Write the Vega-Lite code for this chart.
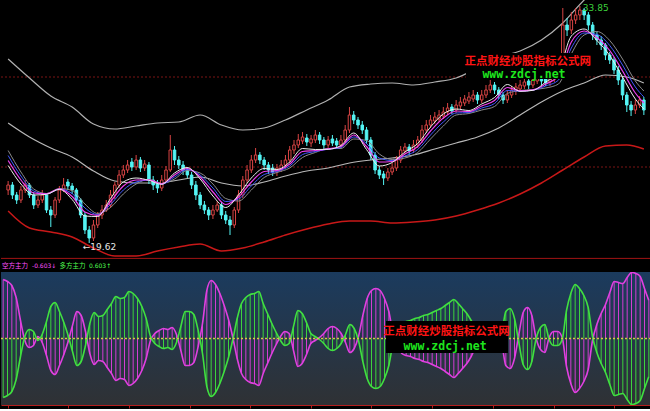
{
"$schema": "https://vega.github.io/schema/vega-lite/v6.json",
"background": "#000000",
"padding": 0,
"spacing": 0,
"config": {"view": {"stroke": null}},
"datasets": {
"one": [{}],
"k": [
{"i":0,"o":22.80,"h":23.34,"l":22.50,"c":23.10,"m":0.59,"g":-0.59},
{"i":1,"o":23.10,"h":23.28,"l":22.26,"c":22.50,"m":0.57,"g":-0.57},
{"i":2,"o":22.50,"h":22.68,"l":21.96,"c":22.20,"m":0.53,"g":-0.53},
{"i":3,"o":22.20,"h":23.04,"l":22.02,"c":22.80,"m":0.41,"g":-0.41},
{"i":4,"o":22.80,"h":23.40,"l":22.62,"c":23.10,"m":0.18,"g":-0.18},
{"i":5,"o":23.10,"h":23.22,"l":22.32,"c":22.50,"m":-0.02,"g":0.02},
{"i":6,"o":22.50,"h":22.68,"l":21.66,"c":21.90,"m":-0.09,"g":0.09},
{"i":7,"o":21.90,"h":22.44,"l":21.72,"c":22.20,"m":-0.07,"g":0.07},
{"i":8,"o":22.20,"h":22.80,"l":22.02,"c":22.50,"m":0.02,"g":-0.02},
{"i":9,"o":22.50,"h":22.62,"l":21.42,"c":21.60,"m":-0.04,"g":0.04},
{"i":10,"o":21.60,"h":21.84,"l":20.58,"c":21.30,"m":-0.17,"g":0.17},
{"i":11,"o":21.30,"h":22.38,"l":21.12,"c":22.20,"m":-0.32,"g":0.32},
{"i":12,"o":22.20,"h":23.04,"l":22.02,"c":22.80,"m":-0.36,"g":0.36},
{"i":13,"o":22.80,"h":23.52,"l":22.68,"c":23.10,"m":-0.27,"g":0.27},
{"i":14,"o":23.28,"h":23.46,"l":22.80,"c":23.04,"m":-0.16,"g":0.16},
{"i":15,"o":23.04,"h":23.22,"l":22.56,"c":22.80,"m":-0.03,"g":0.03},
{"i":16,"o":22.80,"h":22.92,"l":22.02,"c":22.20,"m":0.13,"g":-0.13},
{"i":17,"o":22.20,"h":22.32,"l":21.12,"c":21.30,"m":0.27,"g":-0.27},
{"i":18,"o":21.30,"h":21.48,"l":20.16,"c":20.40,"m":0.23,"g":-0.23},
{"i":19,"o":20.40,"h":20.64,"l":19.62,"c":19.92,"m":0.07,"g":-0.07},
{"i":20,"o":19.92,"h":21.00,"l":19.74,"c":20.70,"m":-0.15,"g":0.15},
{"i":21,"o":20.70,"h":21.48,"l":20.52,"c":21.30,"m":-0.26,"g":0.26},
{"i":22,"o":21.30,"h":21.90,"l":21.06,"c":21.60,"m":-0.22,"g":0.22},
{"i":23,"o":21.60,"h":22.20,"l":21.48,"c":21.90,"m":-0.23,"g":0.23},
{"i":24,"o":21.90,"h":22.80,"l":21.72,"c":22.50,"m":-0.29,"g":0.29},
{"i":25,"o":22.50,"h":23.28,"l":22.26,"c":23.10,"m":-0.35,"g":0.35},
{"i":26,"o":23.10,"h":24.00,"l":22.92,"c":23.70,"m":-0.42,"g":0.42},
{"i":27,"o":23.70,"h":24.30,"l":23.52,"c":24.00,"m":-0.40,"g":0.40},
{"i":28,"o":24.00,"h":24.60,"l":23.82,"c":24.30,"m":-0.41,"g":0.41},
{"i":29,"o":24.48,"h":24.72,"l":23.94,"c":24.18,"m":-0.47,"g":0.47},
{"i":30,"o":24.18,"h":24.90,"l":24.00,"c":24.60,"m":-0.45,"g":0.45},
{"i":31,"o":24.60,"h":24.78,"l":23.88,"c":24.12,"m":-0.40,"g":0.40},
{"i":32,"o":24.12,"h":24.60,"l":23.94,"c":24.36,"m":-0.32,"g":0.32},
{"i":33,"o":24.30,"h":24.48,"l":23.16,"c":23.40,"m":-0.20,"g":0.20},
{"i":34,"o":23.40,"h":23.64,"l":22.80,"c":23.10,"m":-0.02,"g":0.02},
{"i":35,"o":23.16,"h":23.40,"l":22.62,"c":22.92,"m":0.05,"g":-0.05},
{"i":36,"o":22.92,"h":23.70,"l":22.74,"c":23.40,"m":0.08,"g":-0.08},
{"i":37,"o":23.40,"h":24.24,"l":23.22,"c":24.00,"m":0.10,"g":-0.10},
{"i":38,"o":24.00,"h":26.10,"l":23.88,"c":25.20,"m":0.09,"g":-0.09},
{"i":39,"o":25.20,"h":25.44,"l":24.30,"c":24.60,"m":0.11,"g":-0.11},
{"i":40,"o":24.60,"h":24.84,"l":24.06,"c":24.30,"m":0.04,"g":-0.04},
{"i":41,"o":24.30,"h":24.54,"l":23.70,"c":24.00,"m":-0.12,"g":0.12},
{"i":42,"o":24.00,"h":24.18,"l":23.52,"c":23.70,"m":-0.27,"g":0.27},
{"i":43,"o":23.70,"h":23.88,"l":22.86,"c":23.10,"m":-0.27,"g":0.27},
{"i":44,"o":23.10,"h":23.34,"l":22.20,"c":22.50,"m":-0.24,"g":0.24},
{"i":45,"o":22.50,"h":22.68,"l":21.66,"c":21.90,"m":-0.08,"g":0.08},
{"i":46,"o":21.90,"h":22.14,"l":21.36,"c":21.60,"m":0.15,"g":-0.15},
{"i":47,"o":21.60,"h":21.78,"l":21.00,"c":21.30,"m":0.48,"g":-0.48},
{"i":48,"o":21.30,"h":21.90,"l":21.06,"c":21.60,"m":0.58,"g":-0.58},
{"i":49,"o":21.60,"h":22.14,"l":21.48,"c":21.90,"m":0.54,"g":-0.54},
{"i":50,"o":21.90,"h":22.08,"l":21.06,"c":21.30,"m":0.45,"g":-0.45},
{"i":51,"o":21.30,"h":21.54,"l":20.76,"c":21.00,"m":0.33,"g":-0.33},
{"i":52,"o":21.00,"h":21.24,"l":20.10,"c":20.70,"m":0.19,"g":-0.19},
{"i":53,"o":20.70,"h":21.78,"l":20.52,"c":21.60,"m":0.01,"g":-0.01},
{"i":54,"o":21.60,"h":22.80,"l":21.42,"c":22.50,"m":-0.20,"g":0.20},
{"i":55,"o":22.50,"h":23.64,"l":22.32,"c":23.40,"m":-0.35,"g":0.35},
{"i":56,"o":23.40,"h":24.30,"l":23.22,"c":24.00,"m":-0.41,"g":0.41},
{"i":57,"o":24.00,"h":24.90,"l":23.82,"c":24.60,"m":-0.44,"g":0.44},
{"i":58,"o":24.60,"h":25.32,"l":24.42,"c":24.90,"m":-0.45,"g":0.45},
{"i":59,"o":24.90,"h":25.08,"l":24.36,"c":24.60,"m":-0.47,"g":0.47},
{"i":60,"o":24.60,"h":24.78,"l":24.00,"c":24.30,"m":-0.35,"g":0.35},
{"i":61,"o":24.30,"h":24.48,"l":23.76,"c":24.00,"m":-0.25,"g":0.25},
{"i":62,"o":24.12,"h":24.36,"l":23.64,"c":23.88,"m":-0.15,"g":0.15},
{"i":63,"o":23.88,"h":24.36,"l":23.64,"c":24.12,"m":-0.06,"g":0.06},
{"i":64,"o":24.06,"h":24.60,"l":23.88,"c":24.30,"m":0.02,"g":-0.02},
{"i":65,"o":24.30,"h":24.90,"l":24.12,"c":24.60,"m":0.07,"g":-0.07},
{"i":66,"o":24.60,"h":25.44,"l":24.42,"c":25.20,"m":0.05,"g":-0.05},
{"i":67,"o":25.20,"h":25.80,"l":24.96,"c":25.50,"m":-0.12,"g":0.12},
{"i":68,"o":25.50,"h":26.16,"l":25.32,"c":25.80,"m":-0.28,"g":0.28},
{"i":69,"o":25.74,"h":26.28,"l":25.56,"c":25.98,"m":-0.25,"g":0.25},
{"i":70,"o":25.92,"h":26.16,"l":25.44,"c":25.68,"m":-0.16,"g":0.16},
{"i":71,"o":25.62,"h":26.10,"l":25.38,"c":25.86,"m":-0.05,"g":0.05},
{"i":72,"o":25.80,"h":26.40,"l":25.62,"c":26.10,"m":-0.02,"g":0.02},
{"i":73,"o":26.10,"h":26.28,"l":25.56,"c":25.80,"m":0.01,"g":-0.01},
{"i":74,"o":25.80,"h":25.98,"l":25.26,"c":25.50,"m":0.05,"g":-0.05},
{"i":75,"o":25.50,"h":26.04,"l":25.32,"c":25.80,"m":0.10,"g":-0.10},
{"i":76,"o":25.86,"h":26.10,"l":25.44,"c":25.62,"m":0.12,"g":-0.12},
{"i":77,"o":25.74,"h":25.92,"l":25.26,"c":25.50,"m":0.10,"g":-0.10},
{"i":78,"o":25.50,"h":26.10,"l":25.32,"c":25.80,"m":0.05,"g":-0.05},
{"i":79,"o":25.80,"h":26.70,"l":25.62,"c":26.40,"m":-0.04,"g":0.04},
{"i":80,"o":26.40,"h":27.78,"l":26.22,"c":27.30,"m":-0.14,"g":0.14},
{"i":81,"o":27.30,"h":27.54,"l":26.76,"c":27.00,"m":-0.10,"g":0.10},
{"i":82,"o":27.00,"h":27.18,"l":26.46,"c":26.70,"m":0.02,"g":-0.02},
{"i":83,"o":26.70,"h":26.94,"l":26.16,"c":26.40,"m":0.23,"g":-0.23},
{"i":84,"o":26.40,"h":26.58,"l":25.56,"c":25.80,"m":0.40,"g":-0.40},
{"i":85,"o":25.80,"h":25.98,"l":24.60,"c":24.90,"m":0.48,"g":-0.48},
{"i":86,"o":24.90,"h":25.08,"l":23.76,"c":24.00,"m":0.50,"g":-0.50},
{"i":87,"o":24.00,"h":24.24,"l":23.46,"c":23.70,"m":0.48,"g":-0.48},
{"i":88,"o":23.76,"h":23.94,"l":23.10,"c":23.52,"m":0.40,"g":-0.40},
{"i":89,"o":23.52,"h":24.12,"l":23.34,"c":23.88,"m":0.27,"g":-0.27},
{"i":90,"o":23.88,"h":24.42,"l":23.70,"c":24.12,"m":0.04,"g":-0.04},
{"i":91,"o":24.12,"h":24.84,"l":23.94,"c":24.60,"m":-0.08,"g":0.08},
{"i":92,"o":24.60,"h":25.44,"l":24.42,"c":25.20,"m":-0.15,"g":0.15},
{"i":93,"o":25.14,"h":25.62,"l":24.96,"c":25.38,"m":-0.17,"g":0.17},
{"i":94,"o":25.38,"h":25.56,"l":24.90,"c":25.14,"m":-0.18,"g":0.18},
{"i":95,"o":25.20,"h":25.80,"l":25.02,"c":25.50,"m":-0.20,"g":0.20},
{"i":96,"o":25.50,"h":26.04,"l":25.32,"c":25.80,"m":-0.21,"g":0.21},
{"i":97,"o":25.80,"h":26.70,"l":25.62,"c":26.40,"m":-0.23,"g":0.23},
{"i":98,"o":26.40,"h":27.00,"l":26.22,"c":26.70,"m":-0.24,"g":0.24},
{"i":99,"o":26.70,"h":27.30,"l":26.52,"c":27.00,"m":-0.26,"g":0.26},
{"i":100,"o":26.94,"h":27.48,"l":26.76,"c":27.18,"m":-0.28,"g":0.28},
{"i":101,"o":27.06,"h":27.60,"l":26.88,"c":27.30,"m":-0.30,"g":0.30},
{"i":102,"o":27.24,"h":27.78,"l":27.06,"c":27.48,"m":-0.33,"g":0.33},
{"i":103,"o":27.48,"h":28.02,"l":27.30,"c":27.72,"m":-0.36,"g":0.36},
{"i":104,"o":27.78,"h":27.96,"l":27.36,"c":27.54,"m":-0.39,"g":0.39},
{"i":105,"o":27.60,"h":28.20,"l":27.42,"c":27.90,"m":-0.35,"g":0.35},
{"i":106,"o":27.84,"h":28.38,"l":27.66,"c":28.08,"m":-0.30,"g":0.30},
{"i":107,"o":28.02,"h":28.50,"l":27.84,"c":28.26,"m":-0.25,"g":0.25},
{"i":108,"o":28.14,"h":28.68,"l":27.96,"c":28.38,"m":-0.18,"g":0.18},
{"i":109,"o":28.26,"h":28.80,"l":28.08,"c":28.50,"m":-0.09,"g":0.09},
{"i":110,"o":28.50,"h":28.68,"l":27.96,"c":28.20,"m":-0.02,"g":0.02},
{"i":111,"o":28.20,"h":28.80,"l":28.02,"c":28.50,"m":0.06,"g":-0.06},
{"i":112,"o":28.50,"h":29.10,"l":28.32,"c":28.80,"m":0.10,"g":-0.10},
{"i":113,"o":28.80,"h":29.40,"l":28.62,"c":29.10,"m":0.09,"g":-0.09},
{"i":114,"o":29.10,"h":29.28,"l":28.56,"c":28.80,"m":0.05,"g":-0.05},
{"i":115,"o":28.80,"h":28.98,"l":28.26,"c":28.50,"m":-0.03,"g":0.03},
{"i":116,"o":28.50,"h":28.68,"l":27.96,"c":28.20,"m":-0.27,"g":0.27},
{"i":117,"o":28.20,"h":28.80,"l":28.02,"c":28.50,"m":-0.30,"g":0.30},
{"i":118,"o":28.50,"h":29.04,"l":28.32,"c":28.80,"m":-0.20,"g":0.20},
{"i":119,"o":28.74,"h":29.22,"l":28.50,"c":28.98,"m":0.04,"g":-0.04},
{"i":120,"o":28.86,"h":29.40,"l":28.68,"c":29.10,"m":0.26,"g":-0.26},
{"i":121,"o":29.04,"h":29.52,"l":28.86,"c":29.28,"m":0.31,"g":-0.31},
{"i":122,"o":29.34,"h":29.52,"l":28.86,"c":29.10,"m":0.23,"g":-0.23},
{"i":123,"o":29.10,"h":29.64,"l":28.92,"c":29.40,"m":0.00,"g":0.00},
{"i":124,"o":29.34,"h":29.82,"l":29.16,"c":29.58,"m":-0.11,"g":0.11},
{"i":125,"o":29.58,"h":29.76,"l":29.10,"c":29.34,"m":-0.14,"g":0.14},
{"i":126,"o":29.46,"h":29.64,"l":29.04,"c":29.22,"m":0.01,"g":-0.01},
{"i":127,"o":29.28,"h":29.76,"l":29.04,"c":29.52,"m":0.07,"g":-0.07},
{"i":128,"o":29.46,"h":30.00,"l":29.28,"c":29.70,"m":0.07,"g":-0.07},
{"i":129,"o":29.70,"h":30.90,"l":29.52,"c":30.60,"m":0.01,"g":-0.01},
{"i":130,"o":30.48,"h":33.72,"l":30.24,"c":32.70,"m":-0.28,"g":0.28},
{"i":131,"o":32.70,"h":33.12,"l":32.04,"c":32.40,"m":-0.45,"g":0.45},
{"i":132,"o":32.40,"h":33.48,"l":32.16,"c":33.00,"m":-0.54,"g":0.54},
{"i":133,"o":33.00,"h":33.72,"l":32.76,"c":33.30,"m":-0.50,"g":0.50},
{"i":134,"o":33.30,"h":33.84,"l":33.00,"c":33.60,"m":-0.43,"g":0.43},
{"i":135,"o":33.60,"h":33.72,"l":33.00,"c":33.30,"m":-0.31,"g":0.31},
{"i":136,"o":33.30,"h":33.48,"l":32.40,"c":32.70,"m":-0.02,"g":0.02},
{"i":137,"o":32.70,"h":32.88,"l":31.80,"c":32.10,"m":0.14,"g":-0.14},
{"i":138,"o":32.10,"h":32.28,"l":31.50,"c":31.80,"m":0.25,"g":-0.25},
{"i":139,"o":31.80,"h":32.04,"l":31.20,"c":31.50,"m":0.34,"g":-0.34},
{"i":140,"o":31.50,"h":31.62,"l":30.60,"c":30.90,"m":0.46,"g":-0.46},
{"i":141,"o":30.90,"h":31.08,"l":30.36,"c":30.60,"m":0.57,"g":-0.57},
{"i":142,"o":30.60,"h":30.78,"l":29.76,"c":30.00,"m":0.56,"g":-0.56},
{"i":143,"o":30.00,"h":30.24,"l":29.10,"c":29.40,"m":0.55,"g":-0.55},
{"i":144,"o":29.40,"h":29.58,"l":28.20,"c":28.50,"m":0.61,"g":-0.61},
{"i":145,"o":28.50,"h":28.68,"l":27.48,"c":27.90,"m":0.66,"g":-0.66},
{"i":146,"o":27.90,"h":28.14,"l":27.24,"c":27.60,"m":0.65,"g":-0.65},
{"i":147,"o":27.60,"h":28.20,"l":27.36,"c":27.90,"m":0.62,"g":-0.62},
{"i":148,"o":27.90,"h":28.44,"l":27.72,"c":28.20,"m":0.50,"g":-0.50},
{"i":149,"o":28.20,"h":28.38,"l":27.30,"c":27.60,"m":0.38,"g":-0.38}
],
"ma": [
{"i":0,"L1":24.27,"L2":24.57,"L3":24.87,"L4":25.17},
{"i":3,"L1":23.16,"L2":23.40,"L3":23.64,"L4":23.88},
{"i":6,"L1":22.50,"L2":22.62,"L3":22.74,"L4":22.86},
{"i":9,"L1":22.54,"L2":22.57,"L3":22.55,"L4":22.59},
{"i":12,"L1":22.84,"L2":22.87,"L3":22.85,"L4":22.89},
{"i":15,"L1":22.23,"L2":22.41,"L3":22.59,"L4":22.77},
{"i":18,"L1":21.24,"L2":21.48,"L3":21.72,"L4":21.96},
{"i":21,"L1":21.21,"L2":21.27,"L3":21.33,"L4":21.39},
{"i":24,"L1":22.29,"L2":22.11,"L3":21.93,"L4":21.75},
{"i":27,"L1":23.28,"L2":23.04,"L3":22.80,"L4":22.56},
{"i":30,"L1":23.52,"L2":23.40,"L3":23.28,"L4":23.16},
{"i":33,"L1":23.38,"L2":23.41,"L3":23.39,"L4":23.43},
{"i":36,"L1":23.14,"L2":23.17,"L3":23.15,"L4":23.19},
{"i":39,"L1":23.82,"L2":23.70,"L3":23.58,"L4":23.46},
{"i":42,"L1":24.15,"L2":24.09,"L3":24.03,"L4":23.97},
{"i":45,"L1":23.46,"L2":23.58,"L3":23.70,"L4":23.82},
{"i":48,"L1":22.44,"L2":22.68,"L3":22.92,"L4":23.16},
{"i":51,"L1":21.75,"L2":21.93,"L3":22.11,"L4":22.29},
{"i":54,"L1":22.50,"L2":22.38,"L3":22.26,"L4":22.14},
{"i":57,"L1":23.52,"L2":23.28,"L3":23.04,"L4":22.80},
{"i":60,"L1":24.09,"L2":23.91,"L3":23.73,"L4":23.55},
{"i":63,"L1":24.03,"L2":23.97,"L3":23.91,"L4":23.85},
{"i":66,"L1":24.48,"L2":24.36,"L3":24.24,"L4":24.12},
{"i":69,"L1":25.29,"L2":25.11,"L3":24.93,"L4":24.75},
{"i":72,"L1":25.23,"L2":25.17,"L3":25.11,"L4":25.05},
{"i":75,"L1":25.24,"L2":25.27,"L3":25.25,"L4":25.29},
{"i":78,"L1":25.47,"L2":25.41,"L3":25.35,"L4":25.29},
{"i":81,"L1":26.22,"L2":26.10,"L3":25.98,"L4":25.86},
{"i":84,"L1":25.23,"L2":25.41,"L3":25.59,"L4":25.77},
{"i":87,"L1":24.24,"L2":24.48,"L3":24.72,"L4":24.96},
{"i":90,"L1":24.45,"L2":24.51,"L3":24.57,"L4":24.63},
{"i":93,"L1":25.08,"L2":24.96,"L3":24.84,"L4":24.72},
{"i":96,"L1":25.59,"L2":25.41,"L3":25.23,"L4":25.05},
{"i":99,"L1":26.58,"L2":26.34,"L3":26.10,"L4":25.86},
{"i":102,"L1":27.36,"L2":27.12,"L3":26.88,"L4":26.64},
{"i":105,"L1":27.66,"L2":27.54,"L3":27.42,"L4":27.30},
{"i":108,"L1":27.57,"L2":27.51,"L3":27.45,"L4":27.39},
{"i":111,"L1":27.96,"L2":27.84,"L3":27.72,"L4":27.60},
{"i":114,"L1":28.35,"L2":28.17,"L3":27.99,"L4":27.81},
{"i":117,"L1":29.13,"L2":28.95,"L3":28.77,"L4":28.59},
{"i":120,"L1":28.72,"L2":28.75,"L3":28.73,"L4":28.77},
{"i":123,"L1":28.78,"L2":28.81,"L3":28.79,"L4":28.83},
{"i":126,"L1":29.28,"L2":29.16,"L3":29.04,"L4":28.92},
{"i":129,"L1":29.88,"L2":29.64,"L3":29.40,"L4":29.16},
{"i":132,"L1":32.04,"L2":31.68,"L3":31.32,"L4":30.96},
{"i":135,"L1":32.46,"L2":32.34,"L3":32.22,"L4":32.10},
{"i":138,"L1":31.77,"L2":31.95,"L3":32.13,"L4":32.31},
{"i":141,"L1":30.87,"L2":31.17,"L3":31.47,"L4":31.77},
{"i":144,"L1":29.58,"L2":29.94,"L3":30.30,"L4":30.66},
{"i":147,"L1":28.26,"L2":28.62,"L3":28.98,"L4":29.34},
{"i":149,"L1":27.66,"L2":28.02,"L3":28.38,"L4":28.74}
],
"env": [
{"i":0,"up":30.66,"mid":26.82,"lo":21.54},
{"i":5,"up":29.52,"mid":25.98,"lo":20.52},
{"i":10,"up":28.44,"mid":25.32,"lo":20.28},
{"i":15,"up":27.78,"mid":24.78,"lo":19.98},
{"i":20,"up":26.76,"mid":23.94,"lo":19.32},
{"i":25,"up":26.46,"mid":23.34,"lo":18.84},
{"i":30,"up":26.64,"mid":23.22,"lo":18.84},
{"i":35,"up":26.82,"mid":23.22,"lo":19.14},
{"i":40,"up":26.88,"mid":23.40,"lo":19.38},
{"i":45,"up":27.30,"mid":23.58,"lo":19.56},
{"i":50,"up":26.70,"mid":23.22,"lo":19.14},
{"i":55,"up":26.40,"mid":23.04,"lo":19.32},
{"i":60,"up":26.52,"mid":23.28,"lo":19.68},
{"i":65,"up":27.00,"mid":23.64,"lo":20.10},
{"i":70,"up":27.60,"mid":23.94,"lo":20.46},
{"i":75,"up":28.20,"mid":24.12,"lo":20.76},
{"i":80,"up":28.98,"mid":24.42,"lo":20.94},
{"i":85,"up":29.16,"mid":24.60,"lo":20.94},
{"i":90,"up":29.22,"mid":24.72,"lo":20.82},
{"i":95,"up":29.10,"mid":24.90,"lo":20.88},
{"i":100,"up":29.28,"mid":25.26,"lo":21.00},
{"i":105,"up":29.52,"mid":25.62,"lo":21.24},
{"i":110,"up":30.12,"mid":25.98,"lo":21.60},
{"i":115,"up":30.78,"mid":26.52,"lo":22.02},
{"i":120,"up":31.14,"mid":27.30,"lo":22.56},
{"i":125,"up":31.80,"mid":28.08,"lo":23.22},
{"i":130,"up":32.82,"mid":28.74,"lo":24.00},
{"i":135,"up":34.20,"mid":29.22,"lo":24.78},
{"i":140,"up":35.28,"mid":29.70,"lo":25.44},
{"i":145,"mid":29.58,"lo":25.50},
{"i":149,"mid":29.22,"lo":25.26}
]
},
"vconcat": [
{
"width": 650, "height": 257,
"view": {"fill": "#000000", "stroke": null},
"layer": [
{"data": {"name": "one"}, "mark": {"type": "rule", "color": "#7a1414", "strokeDash": [2, 2], "strokeWidth": 1},
 "encoding": {"y": {"datum": 29.58, "type": "quantitative", "scale": {"domain": [18.78, 34.2], "nice": false, "zero": false}, "axis": null}}},
{"data": {"name": "one"}, "mark": {"type": "rule", "color": "#7a1414", "strokeDash": [2, 2], "strokeWidth": 1},
 "encoding": {"y": {"datum": 24.18, "type": "quantitative", "axis": null}}},
{"data": {"name": "env"}, "mark": {"type": "line", "color": "#b0b0b0", "strokeWidth": 1.2, "clip": true, "interpolate": "monotone"},
 "encoding": {"x": {"field": "i", "type": "quantitative", "scale": {"domain": [-0.5, 149.5], "nice": false, "zero": false}, "axis": null},
  "y": {"field": "up", "type": "quantitative", "axis": null}}},
{"data": {"name": "env"}, "mark": {"type": "line", "color": "#b8b8b8", "strokeWidth": 1.2, "clip": true, "interpolate": "monotone"},
 "encoding": {"x": {"field": "i", "type": "quantitative", "axis": null},
  "y": {"field": "mid", "type": "quantitative", "axis": null}}},
{"data": {"name": "env"}, "mark": {"type": "line", "color": "#c81818", "strokeWidth": 1.5, "clip": true, "interpolate": "monotone"},
 "encoding": {"x": {"field": "i", "type": "quantitative", "axis": null},
  "y": {"field": "lo", "type": "quantitative", "axis": null}}},
{"data": {"name": "k"}, "mark": {"type": "rule", "strokeWidth": 1},
 "encoding": {"x": {"field": "i", "type": "quantitative", "axis": null},
  "y": {"field": "l", "type": "quantitative", "axis": null}, "y2": {"field": "h"},
  "color": {"condition": {"test": "datum.c >= datum.o", "value": "#d84444"}, "value": "#54f4f4"}}},
{"data": {"name": "k"}, "mark": {"type": "bar", "width": 2.5, "strokeWidth": 1},
 "encoding": {"x": {"field": "i", "type": "quantitative", "axis": null},
  "y": {"field": "o", "type": "quantitative", "axis": null}, "y2": {"field": "c"},
  "fill": {"condition": {"test": "datum.c >= datum.o", "value": "#000000"}, "value": "#54f4f4"},
  "stroke": {"condition": {"test": "datum.c >= datum.o", "value": "#d84444"}, "value": "#54f4f4"}}},
{"data": {"name": "ma"}, "mark": {"type": "line", "color": "#8a8a8a", "strokeWidth": 1, "clip": true, "interpolate": "monotone"},
 "encoding": {"x": {"field": "i", "type": "quantitative", "axis": null}, "y": {"field": "L4", "type": "quantitative", "axis": null}}},
{"data": {"name": "ma"}, "mark": {"type": "line", "color": "#4058ff", "strokeWidth": 1, "clip": true, "interpolate": "monotone"},
 "encoding": {"x": {"field": "i", "type": "quantitative", "axis": null}, "y": {"field": "L3", "type": "quantitative", "axis": null}}},
{"data": {"name": "ma"}, "mark": {"type": "line", "color": "#f040f0", "strokeWidth": 1.2, "clip": true, "interpolate": "monotone"},
 "encoding": {"x": {"field": "i", "type": "quantitative", "axis": null}, "y": {"field": "L2", "type": "quantitative", "axis": null}}},
{"data": {"name": "ma"}, "mark": {"type": "line", "color": "#eeeeee", "strokeWidth": 1, "clip": true, "interpolate": "monotone"},
 "encoding": {"x": {"field": "i", "type": "quantitative", "axis": null}, "y": {"field": "L1", "type": "quantitative", "axis": null}}},
{"data": {"name": "one"}, "mark": {"type": "text", "text": "←19.62", "align": "left", "baseline": "middle", "fontSize": 9, "font": "DejaVu Sans", "color": "#e6e6e6"},
 "encoding": {"x": {"datum": 17.5, "type": "quantitative", "axis": null}, "y": {"datum": 19.38, "type": "quantitative", "axis": null}}},
{"data": {"name": "one"}, "mark": {"type": "text", "text": "33.85", "align": "left", "baseline": "middle", "fontSize": 9, "font": "DejaVu Sans", "color": "#3cd23c"},
 "encoding": {"x": {"datum": 134.7, "type": "quantitative", "axis": null}, "y": {"datum": 33.72, "type": "quantitative", "axis": null}}},
{"data": {"name": "one"}, "mark": {"type": "rect", "color": "#000000"},
 "encoding": {"x": {"datum": 107.3, "type": "quantitative", "axis": null}, "x2": {"datum": 135.2},
  "y": {"datum": 31.02, "type": "quantitative", "axis": null}, "y2": {"datum": 29.46}}},
{"data": {"name": "one"}, "mark": {"type": "text", "text": "正点财经炒股指标公式网", "align": "center", "baseline": "middle", "fontSize": 11.5, "fontWeight": "bold", "font": "Noto Sans CJK SC", "color": "#ff1414"},
 "encoding": {"x": {"datum": 121.8, "type": "quantitative", "axis": null}, "y": {"datum": 30.51, "type": "quantitative", "axis": null}}},
{"data": {"name": "one"}, "mark": {"type": "text", "text": "www.zdcj.net", "align": "center", "baseline": "middle", "fontSize": 11.5, "fontWeight": "bold", "font": "DejaVu Sans Mono", "color": "#1ee61e"},
 "encoding": {"x": {"datum": 120.9, "type": "quantitative", "axis": null}, "y": {"datum": 29.73, "type": "quantitative", "axis": null}}}
]
},
{
"width": 650, "height": 14,
"view": {"fill": "#000000", "stroke": null},
"layer": [
{"data": {"name": "one"}, "mark": {"type": "rule", "color": "#a01414", "strokeWidth": 1},
 "encoding": {"y": {"datum": 0.9, "type": "quantitative", "scale": {"domain": [0, 1], "nice": false, "zero": false}, "axis": null}}},
{"data": {"name": "one"}, "mark": {"type": "text", "text": "空方主力", "align": "left", "baseline": "middle", "fontSize": 6.5, "font": "Noto Sans CJK SC", "color": "#ff50ff"},
 "encoding": {"x": {"datum": -0.25, "type": "quantitative", "scale": {"domain": [-0.5, 149.5], "nice": false, "zero": false}, "axis": null}, "y": {"datum": 0.38, "type": "quantitative", "axis": null}}},
{"data": {"name": "one"}, "mark": {"type": "text", "text": "-0.603↓", "align": "left", "baseline": "middle", "fontSize": 6, "font": "DejaVu Sans", "color": "#ff50ff"},
 "encoding": {"x": {"datum": 6.65, "type": "quantitative", "axis": null}, "y": {"datum": 0.38, "type": "quantitative", "axis": null}}},
{"data": {"name": "one"}, "mark": {"type": "text", "text": "多方主力", "align": "left", "baseline": "middle", "fontSize": 6.5, "font": "Noto Sans CJK SC", "color": "#50ff50"},
 "encoding": {"x": {"datum": 13.0, "type": "quantitative", "axis": null}, "y": {"datum": 0.38, "type": "quantitative", "axis": null}}},
{"data": {"name": "one"}, "mark": {"type": "text", "text": "0.603↑", "align": "left", "baseline": "middle", "fontSize": 6, "font": "DejaVu Sans", "color": "#50ff50"},
 "encoding": {"x": {"datum": 19.8, "type": "quantitative", "axis": null}, "y": {"datum": 0.38, "type": "quantitative", "axis": null}}}
]
},
{
"width": 650, "height": 133,
"view": {"stroke": null, "fill": {"gradient": "linear", "x1": 0, "y1": 0, "x2": 0, "y2": 1, "stops": [{"offset": 0, "color": "#1b3b5e"}, {"offset": 1, "color": "#2f3134"}]}},
"layer": [
{"data": {"name": "k"}, "mark": {"type": "rule", "color": "#d43cd4", "strokeWidth": 1},
 "encoding": {"x": {"field": "i", "type": "quantitative", "scale": {"domain": [-0.5, 149.5], "nice": false, "zero": false},
   "axis": {"title": null, "labels": false, "ticks": true, "tickSize": 3, "tickColor": "#b41e1e", "domainColor": "#b41e1e", "grid": false,
   "values": [1,4.5,8,11.5,15,18.5,22,25.5,29,32.5,36,39.5,43,46.5,50,53.5,57,60.5,64,67.5,71,74.5,78,81.5,85,88.5,92,95.5,99,102.5,106,109.5,113,116.5,120,123.5,127,130.5,134,137.5,141,144.5,148]}},
  "y": {"field": "m", "type": "quantitative", "scale": {"domain": [-0.665, 0.665], "nice": false, "zero": false}, "axis": null},
  "y2": {"datum": 0}}},
{"data": {"name": "k"}, "mark": {"type": "rule", "color": "#3cd43c", "strokeWidth": 1},
 "encoding": {"x": {"field": "i", "type": "quantitative"},
  "y": {"field": "g", "type": "quantitative", "axis": null}, "y2": {"datum": 0}}},
{"data": {"name": "k"}, "mark": {"type": "line", "color": "#e040e0", "strokeWidth": 1.6, "interpolate": "monotone", "clip": true},
 "encoding": {"x": {"field": "i", "type": "quantitative"},
  "y": {"field": "m", "type": "quantitative", "axis": null}}},
{"data": {"name": "k"}, "mark": {"type": "line", "color": "#40e040", "strokeWidth": 1.6, "interpolate": "monotone", "clip": true},
 "encoding": {"x": {"field": "i", "type": "quantitative"},
  "y": {"field": "g", "type": "quantitative", "axis": null}}},
{"data": {"name": "one"}, "mark": {"type": "rule", "color": "#d2c846", "strokeDash": [2, 2], "strokeWidth": 1.5},
 "encoding": {"y": {"datum": 0, "type": "quantitative", "axis": null}}},
{"data": {"name": "one"}, "mark": {"type": "rect", "color": "#000000"},
 "encoding": {"x": {"datum": 88.35, "type": "quantitative"}, "x2": {"datum": 116.5},
  "y": {"datum": 0.175, "type": "quantitative", "axis": null}, "y2": {"datum": -0.145}}},
{"data": {"name": "one"}, "mark": {"type": "text", "text": "正点财经炒股指标公式网", "align": "center", "baseline": "middle", "fontSize": 11.5, "fontWeight": "bold", "font": "Noto Sans CJK SC", "color": "#ff1414"},
 "encoding": {"x": {"datum": 102.3, "type": "quantitative"}, "y": {"datum": 0.065, "type": "quantitative", "axis": null}}},
{"data": {"name": "one"}, "mark": {"type": "text", "text": "www.zdcj.net", "align": "center", "baseline": "middle", "fontSize": 11.5, "fontWeight": "bold", "font": "DejaVu Sans Mono", "color": "#1ee61e"},
 "encoding": {"x": {"datum": 102.0, "type": "quantitative"}, "y": {"datum": -0.085, "type": "quantitative", "axis": null}}}
]
}
]
}
